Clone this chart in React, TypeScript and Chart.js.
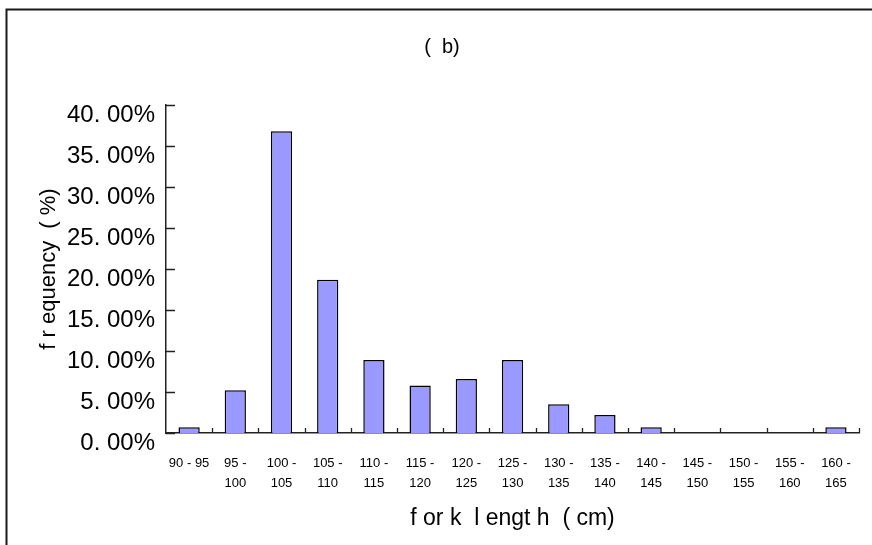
import React, { useEffect, useRef } from "react";
import { Chart, registerables } from "chart.js";

Chart.register(...registerables);

const tickLabels: string[][] = [
  ["90 - 95"],
  ["95 -", "100"],
  ["100 -", "105"],
  ["105 -", "110"],
  ["110 -", "115"],
  ["115 -", "120"],
  ["120 -", "125"],
  ["125 -", "130"],
  ["130 -", "135"],
  ["135 -", "140"],
  ["140 -", "145"],
  ["145 -", "150"],
  ["150 -", "155"],
  ["155 -", "160"],
  ["160 -", "165"],
];

const frequency: number[] = [0.7, 5.2, 36.8, 18.7, 8.9, 5.8, 6.6, 8.9, 3.5, 2.2, 0.7, 0, 0, 0, 0.7];

const titleText = "(  b)";
const yTitle = "f r equency  ( %)";
const xTitle = "f or k  l engt h  ( cm)";

const FONT = "'Liberation Sans', Arial, sans-serif";

const frameAndTicks = {
  id: "frameAndTicks",
  beforeDraw(chart: any) {
    const ctx = chart.ctx;
    ctx.save();
    ctx.strokeStyle = "#1a1a1a";
    ctx.lineWidth = 2;
    ctx.beginPath();
    ctx.moveTo(6.5, chart.height);
    ctx.lineTo(6.5, 9.5);
    ctx.lineTo(chart.width, 9.5);
    ctx.stroke();
    ctx.fillStyle = "#000";
    ctx.font = `20px ${FONT}`;
    ctx.textAlign = "center";
    ctx.textBaseline = "middle";
    ctx.fillText(titleText, 442, 47);
    ctx.restore();
  },
  afterDatasetsDraw(chart: any) {
    const { ctx, chartArea } = chart;
    const x = chart.scales.x;
    const y = chart.scales.y;
    ctx.save();
    ctx.strokeStyle = "#222";
    ctx.lineWidth = 1.3;
    ctx.beginPath();
    y.ticks.forEach((t: any) => {
      const py = Math.round(y.getPixelForValue(t.value)) + 0.5;
      ctx.moveTo(chartArea.left, py);
      ctx.lineTo(chartArea.left + 9, py);
    });
    for (let i = 1; i <= tickLabels.length; i++) {
      const px = Math.round(x.getPixelForValue(i - 0.5)) + 0.5;
      ctx.moveTo(px, chartArea.bottom);
      ctx.lineTo(px, chartArea.bottom - 5);
    }
    ctx.stroke();
    ctx.restore();
  },
};

export default function App() {
  const ref = useRef<HTMLCanvasElement | null>(null);
  useEffect(() => {
    if (!ref.current) return;
    const chart = new Chart(ref.current, {
      type: "bar",
      data: {
        labels: tickLabels,
        datasets: [
          {
            data: frequency,
            backgroundColor: "#9999FF",
            borderColor: "#000000",
            borderWidth: 1.5,
            barPercentage: 0.46,
            categoryPercentage: 1,
          },
        ],
      },
      options: {
        animation: false,
        responsive: false,
        layout: { padding: { left: 0, right: 7, top: 105, bottom: 0 } },
        plugins: {
          legend: { display: false },
          tooltip: { enabled: false },
          title: { display: false },
        },
        scales: {
          x: {
            grid: { display: false, drawTicks: false },
            border: { display: true, color: "#222", width: 1.5 },
            afterFit: (s: any) => {
              s.height = 112;
            },
            ticks: {
              autoSkip: false,
              maxRotation: 0,
              minRotation: 0,
              padding: 21,
              color: "#000",
              font: { family: FONT, size: 13, lineHeight: 1.5 },
            },
            title: {
              display: true,
              text: xTitle,
              color: "#000",
              font: { family: FONT, size: 23, lineHeight: 1.2 },
              padding: { top: 0, bottom: 13 },
            },
          },
          y: {
            min: 0,
            max: 40,
            grid: { display: false, drawTicks: false },
            border: { display: true, color: "#222", width: 1.5 },
            afterFit: (s: any) => {
              s.width = 166;
            },
            ticks: {
              stepSize: 5,
              padding: 11,
              labelOffset: 10,
              color: "#000",
              font: { family: FONT, size: 24 },
              callback: (v: any) => Number(v).toFixed(2).replace(".", ". ") + "%",
            },
            title: {
              display: true,
              text: yTitle,
              color: "#000",
              font: { family: FONT, size: 22, lineHeight: 1.2 },
              padding: { top: 36, bottom: 0 },
            },
          },
        },
      },
      plugins: [frameAndTicks],
    });
    return () => chart.destroy();
  }, []);
  return (
    <canvas
      ref={ref}
      width={872}
      height={545}
      style={{ position: "fixed", left: 0, top: 0, width: 872, height: 545, display: "block", background: "#fff" }}
    />
  );
}
